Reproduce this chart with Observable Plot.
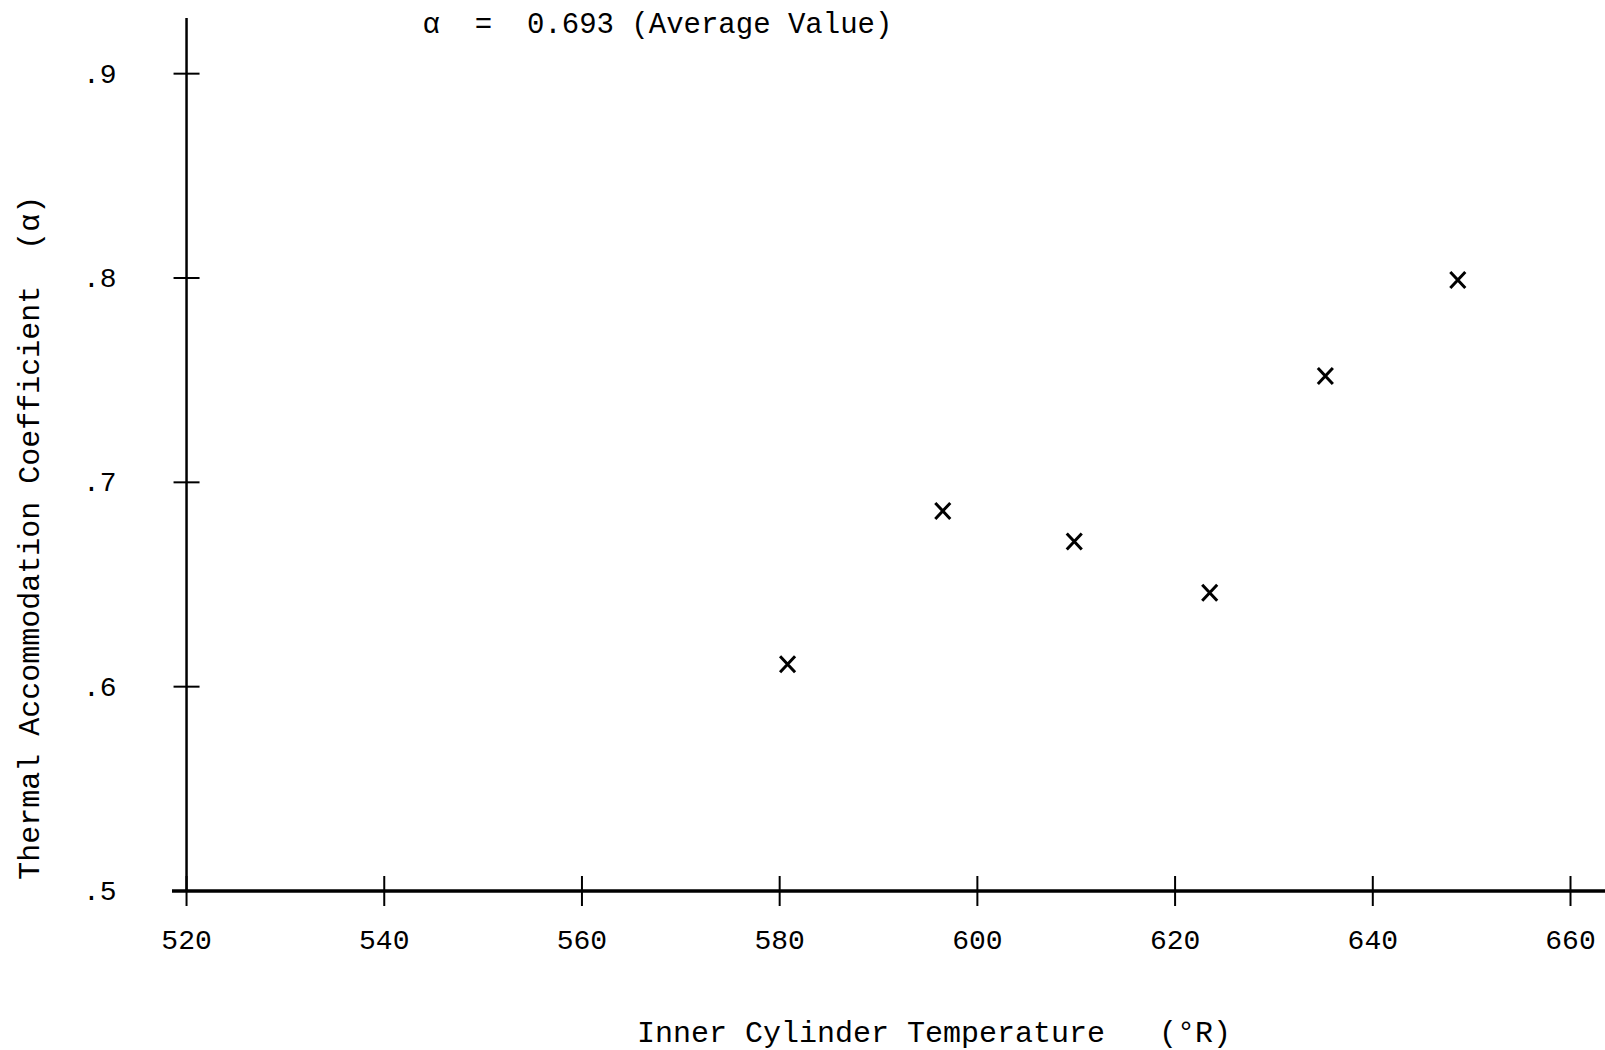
<!DOCTYPE html>
<html>
<head>
<meta charset="utf-8">
<script src="https://cdn.jsdelivr.net/npm/d3@7"></script>
<script src="https://cdn.jsdelivr.net/npm/@observablehq/plot@0.6"></script>
<style>
  html, body { margin: 0; padding: 0; background: #fff; }
  #chart svg { display: block; }
</style>
</head>
<body>
<div id="chart"></div>
<script>
// ---- data ----
const temperature = [580.8, 596.5, 609.8, 623.5, 635.2, 648.6];   // °R
const accommodation = [0.611, 0.686, 0.671, 0.646, 0.752, 0.799]; // α
const averageAlpha = 0.693;

const xTicks = [520, 540, 560, 580, 600, 620, 640, 660];
const xTickLabels = ["520", "540", "560", "580", "600", "620", "640", "660"];
const yTicks = [0.5, 0.6, 0.7, 0.8, 0.9];
const yTickLabels = [".5", ".6", ".7", ".8", ".9"];

const xTitle = "Inner Cylinder Temperature   (\u00B0R)";
const yTitle = "Thermal Accommodation Coefficient  (\u03B1)";
const noteText = `\u03B1  =  ${averageAlpha} (Average Value)`;

// ---- scale configuration ----
const xDomain = [518.58, 663.54];
const yDomain = [0.5, 0.927];

const points = temperature.map((t, i) => ({t, a: accommodation[i]}));
const xTickData = xTicks.map((v, i) => ({v, label: xTickLabels[i]}));
const yTickData = yTicks.map((v, i) => ({v, label: yTickLabels[i]}));

const font = "'Liberation Mono', 'DejaVu Sans Mono', monospace";

const vTick = {draw(ctx) { ctx.moveTo(0, -15); ctx.lineTo(0, 15); }};
const hTick = {draw(ctx) { ctx.moveTo(-13, 0); ctx.lineTo(13, 0); }};
const cross = {draw(ctx) {
  ctx.moveTo(-7.5, -8); ctx.lineTo(7.5, 8);
  ctx.moveTo(7.5, -8); ctx.lineTo(-7.5, 8);
}};

const chart = Plot.plot({
  width: 1605,
  height: 1050,
  marginLeft: 172,
  marginRight: 0,
  marginTop: 18,
  marginBottom: 159.5,
  x: {domain: xDomain, axis: null},
  y: {domain: yDomain, axis: null},
  style: {fontFamily: font, background: "#fff", color: "#000"},
  marks: [
    // axes lines
    Plot.ruleY([yDomain[0]], {stroke: "#000", strokeWidth: 3.5}),
    Plot.ruleX([xTicks[0]], {stroke: "#000", strokeWidth: 2.5}),
    // crossing ticks
    Plot.dot(xTickData, {x: "v", y: () => yDomain[0], symbol: vTick, stroke: "#000", strokeWidth: 2, fill: "none"}),
    Plot.dot(yTickData, {x: () => xTicks[0], y: "v", symbol: hTick, stroke: "#000", strokeWidth: 2, fill: "none"}),
    // tick labels
    Plot.text(xTickData, {x: "v", y: () => yDomain[0], text: "label", dy: 49, fontSize: 28, fill: "#000", textAnchor: "middle", lineAnchor: "middle"}),
    Plot.text(yTickData, {x: () => xTicks[0], y: "v", text: "label", dx: -70, fontSize: 28, fill: "#000", textAnchor: "end", lineAnchor: "middle"}),
    // data points
    Plot.dot(points, {x: "t", y: "a", symbol: cross, stroke: "#000", strokeWidth: 3, fill: "none"}),
    // titles / annotation
    Plot.text([xTitle], {frameAnchor: "bottom", dx: 45, dy: 141, fontSize: 30, fill: "#000", textAnchor: "middle", lineAnchor: "middle"}),
    Plot.text([yTitle], {frameAnchor: "left", rotate: -90, dx: -143, dy: 83, fontSize: 30, fill: "#000", textAnchor: "middle", lineAnchor: "middle"}),
    Plot.text([noteText], {frameAnchor: "top-left", dx: 250, dy: 5, fontSize: 29, fill: "#000", textAnchor: "start", lineAnchor: "middle"})
  ]
});

document.getElementById("chart").appendChild(chart);
</script>
</body>
</html>
